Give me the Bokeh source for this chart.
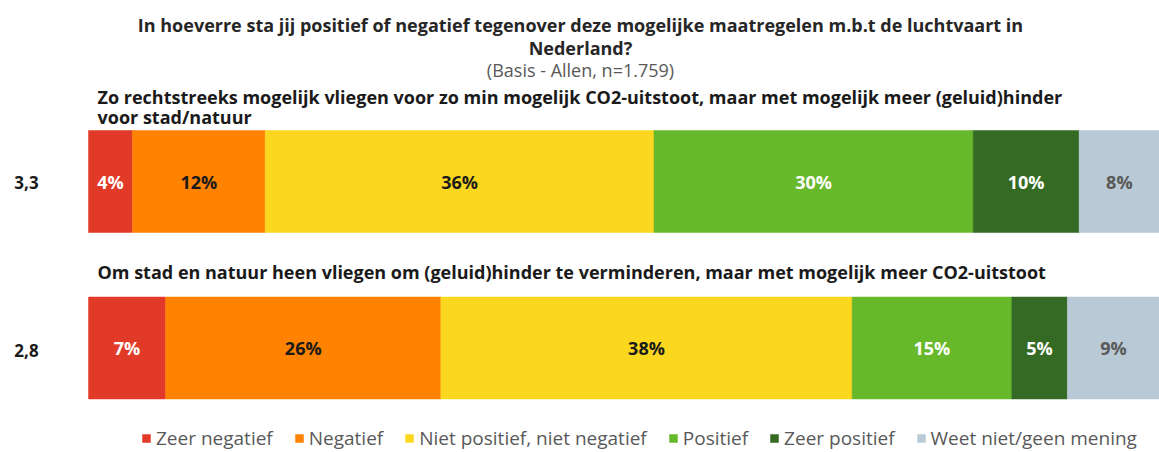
import textwrap
from bokeh.plotting import figure
from bokeh.models import ColumnDataSource, Range1d, Label, Legend, LegendItem
from bokeh.core.properties import value
from bokeh.embed import file_html
from bokeh.resources import INLINE

# ---------------- data ----------------
title_lines = [
    "In hoeverre sta jij positief of negatief tegenover deze mogelijke maatregelen m.b.t de luchtvaart in",
    "Nederland?",
]
subtitle = "(Basis - Allen, n=1.759)"
categories = ["Zeer negatief", "Negatief", "Niet positief, niet negatief",
              "Positief", "Zeer positief", "Weet niet/geen mening"]
statements = [
    "Zo rechtstreeks mogelijk vliegen voor zo min mogelijk CO2-uitstoot, maar met mogelijk meer (geluid)hinder voor stad/natuur",
    "Om stad en natuur heen vliegen om (geluid)hinder te verminderen, maar met mogelijk meer CO2-uitstoot",
]
mean_scores = ["3,3", "2,8"]
direct_vals = [4.1, 12.4, 36.3, 29.8, 9.9, 7.5]
around_vals = [7.2, 25.7, 38.4, 14.9, 5.2, 8.6]

# ---------------- style ----------------
colors = ["#E23A28", "#FF8200", "#FCD720", "#68B82C", "#356A24", "#B9CAD6"]
label_colors = ["#FFFFFF", "#1A1A1A", "#1A1A1A", "#FFFFFF", "#FFFFFF", "#595959"]
FONT = "Open Sans"
W, H = 1159, 452
BAR_LEFT_PX = 88
px_per_unit = (W - BAR_LEFT_PX) / 100.0
row_y = [181.0, 347.5]
bar_h = 102
stmt_y = [[96, 116], [271]]
mean_y = [181.5, 350]

p = figure(width=W, height=H, output_backend="svg", toolbar_location=None,
           x_range=Range1d(-BAR_LEFT_PX / px_per_unit, 100),
           y_range=Range1d(H, 0), min_border=0,
           x_axis_location=None, y_axis_location=None)
p.grid.visible = False
p.outline_line_color = None
p.background_fill_color = "white"

rows = [direct_vals, around_vals]
items = []
for i, cat in enumerate(categories):
    left = [sum(r[:i]) for r in rows]
    right = [l + r[i] for l, r in zip(left, rows)]
    src = ColumnDataSource(dict(
        y=row_y, left=left, right=right,
        mid=[(a + b) / 2 for a, b in zip(left, right)],
        lab=[f"{round(r[i])}%" for r in rows],
    ))
    rend = p.hbar(y="y", left="left", right="right", height=bar_h, source=src,
                  fill_color=colors[i], line_color=colors[i], line_width=0.5)
    p.text(x="mid", y="y", text="lab", source=src, text_align="center",
           text_baseline="middle", text_color=label_colors[i],
           text_font=value(FONT), text_font_style="bold", text_font_size="18px")
    items.append(LegendItem(label=cat, renderers=[rend]))

# titles
for k, line in enumerate(title_lines):
    p.add_layout(Label(x=580, y=[24.5, 47][k], x_units="screen", text=line,
                       text_align="center", text_baseline="middle",
                       text_font=FONT, text_font_style="bold",
                       text_font_size="18px", text_color="#262626"))
p.add_layout(Label(x=580, y=69, x_units="screen", text=subtitle,
                   text_align="center", text_baseline="middle",
                   text_font=FONT, text_font_size="18px", text_color="#595959"))

# statements & mean scores
for j, st in enumerate(statements):
    for k, line in enumerate(textwrap.wrap(st, 106)):
        p.add_layout(Label(x=97, y=stmt_y[j][k], x_units="screen", text=line,
                           text_align="left", text_baseline="middle",
                           text_font=FONT, text_font_style="bold",
                           text_font_size="18px", text_color="#1A1A1A"))
    p.add_layout(Label(x=26, y=mean_y[j], x_units="screen", text=mean_scores[j],
                       text_align="center", text_baseline="middle",
                       text_font=FONT, text_font_style="bold",
                       text_font_size="17px", text_color="#1A1A1A"))

legend = Legend(items=items, orientation="horizontal", location=(141, 1),
                glyph_width=10, glyph_height=10, label_standoff=5, spacing=21,
                padding=0, margin=0, border_line_color=None,
                background_fill_alpha=0, label_text_font=FONT,
                label_text_font_size="19px", label_text_color="#595959",
                label_height=20)
p.add_layout(legend, "center")

open("out.html", "w").write(file_html(p, INLINE))
